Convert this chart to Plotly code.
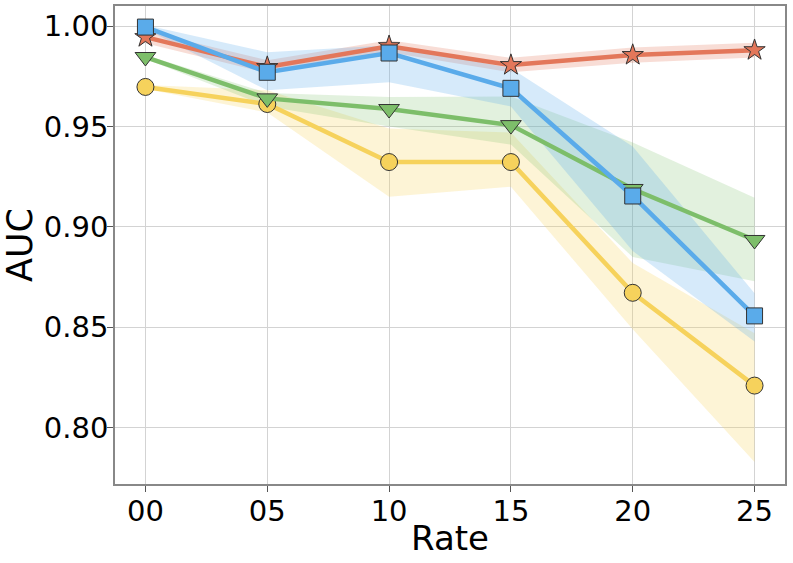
import plotly.graph_objects as go

rates = ["00", "05", "10", "15", "20", "25"]

red_mean = [0.9945, 0.9796, 0.9900, 0.9806, 0.9856, 0.9880]
red_lo = [0.9915, 0.9766, 0.9870, 0.9770, 0.9818, 0.9843]
red_hi = [0.9975, 0.9830, 0.9930, 0.9842, 0.9893, 0.9917]

blue_mean = [0.9995, 0.9770, 0.9866, 0.9690, 0.9154, 0.8557]
blue_lo = [0.9985, 0.9680, 0.9720, 0.9600, 0.8880, 0.8430]
blue_hi = [1.0005, 0.9870, 0.9905, 0.9790, 0.9400, 0.8670]

green_mean = [0.9846, 0.9640, 0.9587, 0.9507, 0.9189, 0.8935]
green_lo = [0.9836, 0.9600, 0.9500, 0.9410, 0.8850, 0.8730]
green_hi = [0.9856, 0.9667, 0.9647, 0.9650, 0.9420, 0.9145]

yellow_mean = [0.9697, 0.9612, 0.9323, 0.9323, 0.8672, 0.8210]
yellow_lo = [0.9687, 0.9570, 0.9150, 0.9200, 0.8490, 0.7830]
yellow_hi = [0.9707, 0.9680, 0.9490, 0.9470, 0.8820, 0.8470]

series = [
    ("yellow", yellow_mean, yellow_lo, yellow_hi, "#F6D25C", "rgba(246,210,92,0.25)", "circle", 17),
    ("green", green_mean, green_lo, green_hi, "#7DBE6A", "rgba(125,190,106,0.22)", "triangle-down", 18),
    ("red", red_mean, red_lo, red_hi, "#E3775A", "rgba(227,119,90,0.25)", "star", 16),
    ("blue", blue_mean, blue_lo, blue_hi, "#5AABEA", "rgba(90,171,234,0.25)", "square", 16),
]

xi = list(range(len(rates)))
fig = go.Figure()

for name, m, lo, hi, col, fcol, sym, sz in series:
    fig.add_trace(go.Scatter(
        x=xi + xi[::-1], y=hi + lo[::-1], fill="toself", fillcolor=fcol,
        line=dict(width=0), mode="lines", hoverinfo="skip", showlegend=False))

for name, m, lo, hi, col, fcol, sym, sz in series:
    fig.add_trace(go.Scatter(
        x=xi, y=m, mode="lines+markers", name=name, showlegend=False,
        line=dict(color=col, width=4.5),
        marker=dict(symbol=sym, size=sz, color=col, line=dict(color="#333333", width=1))))

fig.update_layout(
    width=793, height=563,
    margin=dict(l=115, r=8, t=6, b=79),
    plot_bgcolor="white", paper_bgcolor="white",
    font=dict(family="DejaVu Sans", color="black"),
)
fig.update_xaxes(
    automargin=False,
    range=[-0.25, 5.25], tickmode="array", tickvals=xi, ticktext=rates,
    tickfont=dict(size=29), showgrid=True, gridcolor="#d3d3d3", gridwidth=1,
    ticks="outside", ticklen=6, tickcolor="#555555", showline=True, linecolor="#888888",
    linewidth=1.5, mirror=True, zeroline=False, ticklabelstandoff=-6,
    title=dict(text="Rate", font=dict(size=34), standoff=0),
)
fig.update_yaxes(
    automargin=False,
    range=[0.772, 1.010], tickmode="array", tickvals=[0.80, 0.85, 0.90, 0.95, 1.00],
    ticktext=["0.80", "0.85", "0.90", "0.95", "1.00"],
    tickfont=dict(size=29), showgrid=True, gridcolor="#d3d3d3", gridwidth=1,
    ticks="outside", ticklen=6, tickcolor="#555555", showline=True, linecolor="#888888",
    linewidth=1.5, mirror=True, zeroline=False, ticklabelstandoff=-7,
    title=dict(text="AUC", font=dict(size=35), standoff=12),
)

fig.write_html("out.html", config={"displayModeBar": False},
               post_script="document.body.style.margin='0';document.body.style.overflow='hidden';")
